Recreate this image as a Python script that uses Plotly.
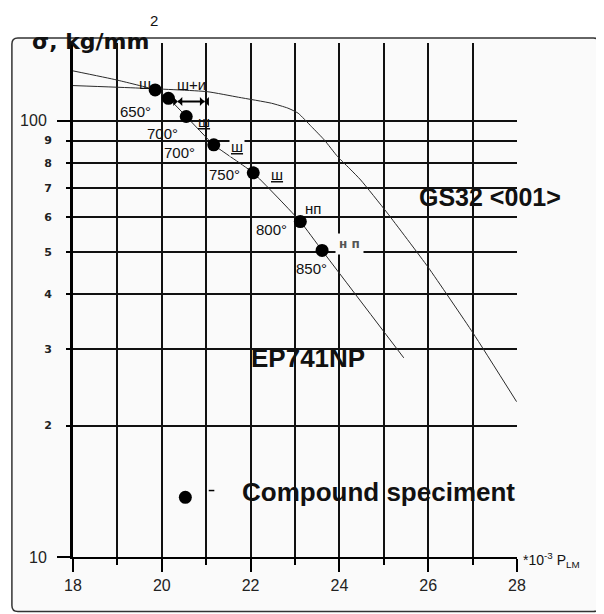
import numpy as np
import plotly.graph_objects as go

# ---- data ----
ep_x = [18.0, 18.97, 19.85, 20.15, 20.55, 21.17, 22.06, 23.12, 23.61, 25.45]
ep_y = [130.0, 124.0, 117.6, 112.5, 102.2, 88.0, 75.9, 58.7, 50.4, 28.6]

gs_x = [18.0, 19.49, 21.02, 21.73, 22.47, 22.84, 23.07, 23.37, 23.66, 23.96,
        24.26, 24.48, 25.08, 26.0, 27.01, 27.99]
gs_y = [120.3, 118.7, 116.5, 113.1, 109.6, 106.8, 104.0, 96.9, 90.3, 82.7,
        77.1, 73.1, 61.4, 46.1, 32.6, 22.7]

pt_x = [19.85, 20.15, 20.55, 21.17, 22.06, 23.12, 23.61]
pt_y = [117.6, 112.5, 102.2, 88.0, 75.9, 58.7, 50.4]

arrow_x = [20.36, 20.96]
arrow_y = [110.6, 110.6]

legend_pt_x = [20.53]
legend_pt_y = [13.7]
legend_dash_x = [21.12]
legend_dash_y = [14.2]

small_labels = ["ш", "ш+и", "650°", "<u>ш</u>", "700°", "<u>ш</u>", "700°",
                "750°", "<u>ш</u>", "нп", "800°", "850°"]
small_x = [19.63, 20.66, 19.4, 20.95, 20.01, 21.69, 20.4, 21.42, 22.59, 23.4, 22.47, 23.37]
small_y = [121.8, 120.7, 104.9, 99.5, 93.6, 87.1, 84.6, 75.4, 75.2, 63.0, 56.2, 45.9]
small_bg = [False, False, False, False, False, True, False, False, False, False, False, False]

np_label = "н п"
np_x, np_y = 24.23, 52.2

big_labels = ["GS32 &lt;001&gt;", "EP741NP"]
big_x = [27.4, 23.3]
big_y = [67.0, 28.6]
big_size = [25, 26]

comp_label = "Compound speciment"
comp_x, comp_y = 24.87, 14.1

x_major = [18, 20, 22, 24, 26, 28]
y_major = [10, 100]
y_minor = [20, 30, 40, 50, 60, 70, 80, 90]
y_minor_text = ["2", "3", "4", "5", "6", "7", "8", "9"]

YMAX = 150.6
BG = "#fafafa"
GRID = "#111111"
LABEL_FONT = "Liberation Sans, Arial, sans-serif"
BIG_FONT = "Liberation Sans, Arial, sans-serif"

fig = go.Figure()

fig.add_trace(go.Scatter(x=gs_x, y=gs_y, mode="lines",
                         line=dict(color="#2a2a2a", width=1, shape="spline", smoothing=0.5),
                         hoverinfo="skip"))
fig.add_trace(go.Scatter(x=ep_x, y=ep_y, mode="lines",
                         line=dict(color="#2a2a2a", width=1, shape="spline", smoothing=0.4),
                         hoverinfo="skip"))
fig.add_trace(go.Scatter(x=pt_x, y=pt_y, mode="markers",
                         marker=dict(color="black", size=13)))
fig.add_trace(go.Scatter(x=arrow_x, y=arrow_y, mode="lines+markers",
                         line=dict(color="black", width=2),
                         marker=dict(symbol=["bowtie", "bowtie"], size=9, color="black")))
fig.add_trace(go.Scatter(x=legend_pt_x, y=legend_pt_y, mode="markers",
                         marker=dict(color="black", size=13), yaxis="y2"))
fig.add_trace(go.Scatter(x=legend_dash_x, y=legend_dash_y, mode="markers",
                         marker=dict(symbol="line-ew", size=4, color="black",
                                     line=dict(color="black", width=1.5))))

ann = []
for t, x, y, bg in zip(small_labels, small_x, small_y, small_bg):
    a = dict(text=t, x=x, y=np.log10(y), xref="x", yref="y", showarrow=False,
             font=dict(family=LABEL_FONT, size=15, color="#111"))
    if bg:
        a.update(bgcolor=BG, borderpad=1)
    ann.append(a)
ann.append(dict(text=np_label, x=np_x, y=np.log10(np_y), xref="x", yref="y", showarrow=False,
                font=dict(family="DejaVu Sans, sans-serif", size=12, color="#555", weight="bold"),
                bgcolor=BG, borderpad=3))
for t, x, y, s in zip(big_labels, big_x, big_y, big_size):
    ann.append(dict(text="<b>" + t + "</b>", x=x, y=np.log10(y), xref="x", yref="y",
                    showarrow=False, font=dict(family=BIG_FONT, size=s, color="#111")))
ann.append(dict(text="<b>" + comp_label + "</b>", x=comp_x, y=np.log10(comp_y), xref="x", yref="y",
                showarrow=False, font=dict(family=BIG_FONT, size=26, color="#111")))

# title and axis label
ann.append(dict(text="<b>σ, kg/mm</b>", x=0.0391, y=1.0025, xref="paper", yref="paper",
                showarrow=False, xanchor="center", yanchor="middle",
                font=dict(family="DejaVu Sans, sans-serif", size=22, color="#111")))
ann.append(dict(text="2", x=0.1827, y=1.0447, xref="paper", yref="paper",
                showarrow=False, xanchor="center", yanchor="middle",
                font=dict(family=LABEL_FONT, size=15, color="#111")))
ann.append(dict(text="*10<sup>-3</sup> P<sub>LM</sub>", x=1.008, y=-0.006, xref="paper", yref="paper",
                showarrow=False, xanchor="left", yanchor="middle",
                font=dict(family=LABEL_FONT, size=14, color="#111")))

# frame (rounded rectangle), paper coords relative to plot area (70..517, 43..557 px)
x0, x1 = -0.1376, 1.1857
yt, yb = 1.0097, -0.106
rx, ry = 0.0134, 0.0117
path = (f"M {x0+rx},{yt} L {x1-rx},{yt} Q {x1},{yt} {x1},{yt-ry} L {x1},{yb+ry} "
        f"Q {x1},{yb} {x1-rx},{yb} L {x0+rx},{yb} Q {x0},{yb} {x0},{yb+ry} "
        f"L {x0},{yt-ry} Q {x0},{yt} {x0+rx},{yt} Z")
shapes = [dict(type="path", path=path, xref="paper", yref="paper",
               line=dict(color="#333", width=1.5), fillcolor=BG, layer="below")]

# page body has an 8px margin, so the figure is sized to fit and margins offset accordingly
fig.update_layout(
    width=596, height=606, autosize=False,
    margin=dict(l=62, r=87, t=35, b=57),
    paper_bgcolor="white", plot_bgcolor="rgba(0,0,0,0)",
    showlegend=False,
    annotations=ann, shapes=shapes,
    xaxis=dict(range=[18, 28], tickvals=x_major, ticktext=[str(v) for v in x_major],
               ticks="outside", ticklen=13, tickwidth=2, tickcolor="black",
               showgrid=True, gridcolor=GRID, gridwidth=2,
               minor=dict(dtick=1, tick0=18, ticks="outside", ticklen=6, tickwidth=2,
                          tickcolor="black", showgrid=True, gridcolor=GRID, gridwidth=2),
               showline=True, linecolor="black", linewidth=2, zeroline=False,
               tickfont=dict(family=LABEL_FONT, size=16, color="#222")),
    yaxis=dict(type="log", range=[1, np.log10(YMAX)], tickvals=y_major, ticktext=["10", "100"],
               ticks="outside", ticklen=13, tickwidth=2, tickcolor="black",
               showgrid=True, gridcolor=GRID, gridwidth=2,
               showline=True, linecolor="black", linewidth=3, zeroline=False,
               ticklabelstandoff=7,
               tickfont=dict(family=LABEL_FONT, size=16, color="#222")),
    yaxis2=dict(type="log", range=[1, np.log10(YMAX)], overlaying="y", side="left", anchor="x",
                tickvals=y_minor, ticktext=y_minor_text,
                ticks="outside", ticklen=6, tickwidth=2, tickcolor="black",
                showgrid=True, gridcolor=GRID, gridwidth=2, showline=False, zeroline=False,
                ticklabelstandoff=12,
                tickfont=dict(family="DejaVu Sans, sans-serif", size=11, color="#222", weight="bold")),
)

fig.write_html("out.html")
